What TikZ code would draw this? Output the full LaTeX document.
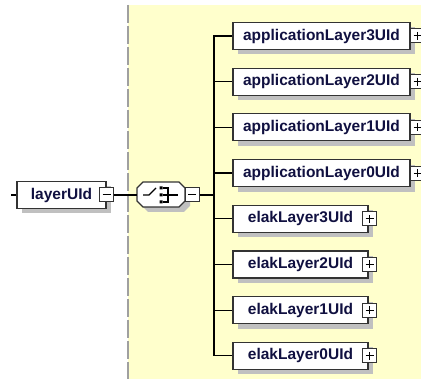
\documentclass[tikz,border=0pt]{standalone}
\usepackage{fontspec}
\setmainfont{Liberation Sans}
\usetikzlibrary{shadows}
\definecolor{bgyellow}{HTML}{FFFFCC}
\definecolor{boxline}{HTML}{333333}
\definecolor{shadowgray}{HTML}{C0C0C0}
\definecolor{txt}{HTML}{101040}
\definecolor{dashgray}{HTML}{A0A0A0}
\begin{document}
\begin{tikzpicture}[x=1pt,y=-1pt,
  elem/.style={draw=boxline, line width=1.2pt, fill=white, minimum height=27pt, inner sep=0pt,
    font=\fontsize{15.5}{18}\selectfont\bfseries, text=txt,
    general shadow={fill=shadowgray, shadow xshift=5pt, shadow yshift=-5pt}},
  pm/.style={draw=boxline, line width=1pt, fill=white, minimum size=14pt, inner sep=0pt},
  minusbox/.style={pm, path picture={\draw[line width=1pt,black]
      ([xshift=3pt]path picture bounding box.west) -- ([xshift=-3pt]path picture bounding box.east);}},
  plusbox/.style={pm, path picture={\draw[line width=1pt,black]
      ([xshift=3pt]path picture bounding box.west) -- ([xshift=-3pt]path picture bounding box.east)
      ([yshift=-3pt]path picture bounding box.north) -- ([yshift=3pt]path picture bounding box.south);}},
  conn/.style={draw=black, line width=1.2pt},
  appbox/.style={elem, minimum width=177pt},
  elakbox/.style={elem, minimum width=135pt}]
\fill[white] (0,0) rectangle (421,379);
\useasboundingbox (0,0) rectangle (421,379);
\clip (0,0) rectangle (421,379);
\fill[bgyellow] (128,5) rectangle (421,379);
\draw[dashgray, line width=1.3pt, dash pattern=on 18pt off 3pt] (128,5) -- (128,379);

% root element
\node[elem, minimum width=89pt] (layer) at (61.5,195) {layerUId};
\node[minusbox] (layerpm) at (layer.east) {};
\coordinate (lstub) at (11,195);
\draw[conn] (lstub) -- (layer.west);

% sequence compositor
\fill[shadowgray] (148,187) -- (184,187) -- (190,193) -- (190,206) -- (184,212) -- (148,212) -- (142,206) -- (142,193) -- cycle;
\draw[boxline, line width=1.2pt, fill=white] (143,182) -- (179,182) -- (185,188) -- (185,201) -- (179,207) -- (143,207) -- (137,201) -- (137,188) -- cycle;
\node[minimum width=48pt, minimum height=25pt, inner sep=0pt] (seq) at (161,195) {};
\draw[black, line width=1.1pt] (143,195) -- (149,195) -- (156,188);
\fill[black] (159.5,186.5) rectangle (162.5,189.5) (159.5,193.5) rectangle (162.5,196.5) (159.5,200.5) rectangle (162.5,203.5);
\draw[black, line width=1.1pt] (163,188) -- (168,188) -- (168,202) -- (163,202) (163,195) -- (178,195);
\node[minusbox] (seqpm) at (192,195) {};
\draw[conn] (layerpm.east) -- (seq.west);

\coordinate (spine) at (214,195);
\draw[conn] (seqpm.east) -- (spine);

% children
\node[appbox] (a3) at (321.5,36) {applicationLayer3UId};
\node[appbox] (a2) at (321.5,81.7) {applicationLayer2UId};
\node[appbox] (a1) at (321.5,127.4) {applicationLayer1UId};
\node[appbox] (a0) at (321.5,173.1) {applicationLayer0UId};
\node[elakbox] (e3) at (300.5,218.8) {elakLayer3UId};
\node[elakbox] (e2) at (300.5,264.5) {elakLayer2UId};
\node[elakbox] (e1) at (300.5,310.2) {elakLayer1UId};
\node[elakbox] (e0) at (300.5,355.9) {elakLayer0UId};

\foreach \n in {a3,a2,a1,a0}{
  \node[plusbox] (\n pm) at ([xshift=7pt]\n.east) {};
}
\foreach \n in {e3,e2,e1,e0}{
  \node[plusbox] (\n pm) at ([xshift=1pt]\n.east) {};
}
\foreach \n in {a3,a2,a1,a0,e3,e2,e1,e0}{
  \draw[conn] (spine) |- (\n.west);
}
\end{tikzpicture}
\end{document}
